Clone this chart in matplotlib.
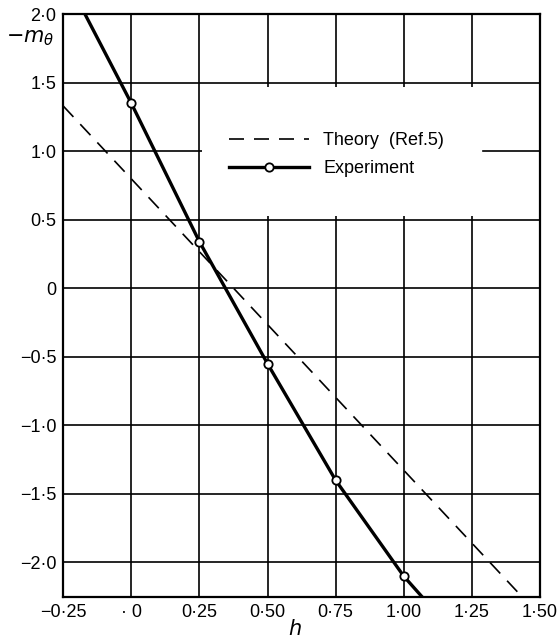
import matplotlib.pyplot as plt
from matplotlib.patches import Rectangle

# values
h_exp = [0.0, 0.25, 0.50, 0.75, 1.00]
m_exp = [1.35, 0.34, -0.55, -1.40, -2.10]

# experiment curve (runs past the end points)
h_curve = [-0.17, 0.0, 0.25, 0.50, 0.75, 1.00, 1.067]
m_curve = [2.00, 1.35, 0.34, -0.55, -1.40, -2.10, -2.25]

# theory line (straight, dashed)
h_theory = [-0.25, 1.50]
m_theory = [1.33, -2.39]

x_ticks = [-0.25, 0.0, 0.25, 0.50, 0.75, 1.00, 1.25, 1.50]
x_labels = ['\u22120\u00b725', '\u00b7 0', '0\u00b725', '0\u00b750', '0\u00b775',
            '1\u00b700', '1\u00b725', '1\u00b750']
y_ticks = [2.0, 1.5, 1.0, 0.5, 0.0, -0.5, -1.0, -1.5, -2.0]
y_labels = ['2\u00b70', '1\u00b75', '1\u00b70', '0\u00b75', '0',
            '\u22120\u00b75', '\u22121\u00b70', '\u22121\u00b75', '\u22122\u00b70']

plt.rcParams['font.family'] = ['Liberation Sans', 'DejaVu Sans']

fig = plt.figure(figsize=(5.59, 6.41), dpi=100)
ax = fig.add_axes([0.113, 0.069, 0.853, 0.909])

ax.set_xlim(-0.25, 1.50)
ax.set_ylim(-2.25, 2.0)
ax.set_xticks(x_ticks)
ax.set_xticklabels(x_labels, fontsize=13)
ax.set_yticks(y_ticks)
ax.set_yticklabels(y_labels, fontsize=13)
ax.tick_params(length=0, pad=5)

ax.set_axisbelow(True)
ax.grid(True, color='black', lw=1.2)
for s in ax.spines.values():
    s.set_linewidth(1.6)

# blank area behind the key, plus the gaps in the hand-drawn grid
ax.add_patch(Rectangle((0.47, 0.53), 1.03, 0.94, facecolor='white',
                       edgecolor='none', zorder=1))
ax.add_patch(Rectangle((0.26, 0.96), 0.22, 0.08, facecolor='white',
                       edgecolor='none', zorder=1))
ax.plot([1.29, 1.50], [1.0, 1.0], color='black', lw=1.2, zorder=1.5)

ax.plot(h_theory, m_theory, color='black', lw=1.2, ls=(0, (9, 6)),
        label='Theory  (Ref.5)', zorder=2)
ax.plot(h_curve, m_curve, color='black', lw=2.4, zorder=3)
ax.plot(h_exp, m_exp, ls='none', marker='o', ms=6, mfc='white',
        mec='black', mew=1.3, zorder=4)
ax.plot([], [], color='black', lw=2.4, marker='o', ms=6, mfc='white',
        mec='black', mew=1.3, label='Experiment')

leg = ax.legend(loc='upper left', bbox_to_anchor=(0.314, 0.825), frameon=False,
                fontsize=13, handlelength=4.4, handletextpad=0.8,
                labelspacing=0.6)

fig.text(0.055, 0.94, r'$-m_\theta$', fontsize=15, ha='center', va='center')
fig.text(0.528, 0.018, r'$h$', fontsize=15, ha='center', va='center')

fig.savefig('out.png')
